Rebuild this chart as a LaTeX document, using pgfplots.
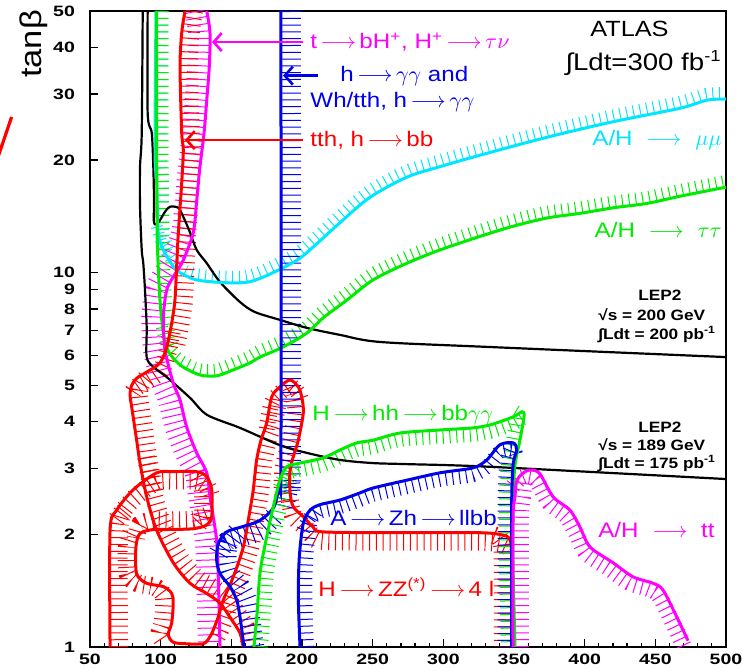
\documentclass[border=0pt]{standalone}
\usepackage{pgfplots}
\usepackage{pgfplotstable}
\pgfplotsset{compat=1.18}
\usepackage{fontspec}
\setmainfont{Liberation Sans}[FakeStretch=1.15]
\newfontfamily\tickfont{Liberation Sans}[FakeStretch=1.3]
\usetikzlibrary{arrows.meta}
\definecolor{pred}{RGB}{255,0,0}
\definecolor{pgreen}{RGB}{0,235,0}
\definecolor{pblue}{RGB}{0,0,235}
\definecolor{pcyan}{RGB}{0,230,255}
\definecolor{pmag}{RGB}{255,0,255}

\pgfplotstableread{
x y
96.7 50
96.0 21.3
97.2 17.4
98.3 12.8
101.9 11.5
108.9 10.4
113.7 10.0
125.5 9.56
146.7 9.40
163.2 9.46
179.5 10.0
196.5 10.8
207.8 11.7
226.9 13.6
248.1 15.9
274.3 18.0
297.7 19.2
326 20.6
373.4 23.0
420 25.3
467.5 27.5
486.6 28.9
500 29.1
}\tcyan
\pgfplotstableread{
x y
97.2 50
97.2 21.3
97.4 14.1
97.8 11.5
99.5 8.45
101.9 6.9
104.5 6.29
108.7 5.92
115.8 5.6
127.8 5.33
139.6 5.30
151.4 5.50
163.2 5.74
170.3 5.95
186.6 6.33
203.5 6.9
214.9 7.57
231.8 8.45
250.2 9.56
274.3 10.6
297.6 11.5
326.0 12.5
349.3 13.3
373.4 14.0
396.7 14.4
420.0 14.9
443.6 15.3
467.5 16.0
495.8 16.8
500 16.9
}\tgtt
\pgfplotstableread{
x y
132.6 50
134.9 43.7
134.4 35.5
132.6 28.9
130.7 23.6
127.8 19.2
125.5 15.6
123.1 12.8
116.0 10.8
108.9 9.74
104.3 8.99
101.9 7.6
103.1 6.22
108.9 5.07
113.7 4.57
118.4 3.87
125.5 3.30
132.6 2.92
134.9 2.52
139.6 1.93
140.8 1.51
142.0 1.0
}\tmtn
\pgfplotstableread{
x y
117.2 50
114.9 43.7
113.7 35.5
114.9 23.6
116.0 21.3
114.9 17.4
112.5 12.8
111.3 10.4
110.1 8.45
107.8 7.34
104.3 6.33
99.5 5.74
90.3 5.43
83.2 5.23
79.5 5.0
78.3 4.71
79.5 4.38
83.0 3.57
85.4 3.10
90.1 2.52
97.2 2.05
108.9 1.68
120.8 1.48
132.6 1.39
142.0 1.31
149.1 1.2
156.1 1.09
158.3 1.0
}\ttth
\pgfplotstableread{
x y
64.2 1.0
64.2 2.05
68.9 2.32
80.6 2.63
97.2 2.92
108.9 2.94
125.5 2.94
132.6 2.85
136.1 2.63
136.1 2.23
132.6 2.12
123.1 2.07
104.3 2.06
94.8 2.06
85.4 2.01
82.5 1.85
83.0 1.57
90.1 1.48
101.9 1.45
107.8 1.39
108.9 1.31
107.8 1.16
105.4 1.08
108.9 1.03
118.4 1.02
130.2 1.02
134.9 1.066
137.2 1.11
140.8 1.205
144.3 1.335
151.4 1.541
158.5 1.853
163.2 2.323
165.5 2.627
167.9 3.159
171.0 3.57
175.0 3.97
178.6 4.66
184.4 4.95
191.5 5.17
197.4 4.95
199.8 4.66
200.9 4.22
197.4 3.57
193.8 3.22
191.5 2.95
191.5 2.6
193.8 2.37
200.9 2.23
208.0 2.09
215.1 2.03
269.3 2.02
326.0 2.02
342.2 1.99
347.2 1.93
348.4 1.71
348.4 1.0
}\tzz
\pgfplotstableread{
x y
185.1 50
185.1 3.2
184.0 2.76
180.2 2.37
170.3 2.18
158.5 2.10
146.7 2.03
140.8 1.89
139.6 1.71
142.0 1.57
149.1 1.45
153.8 1.335
156.1 1.205
158.5 1.033
159.0 1.0
}\tgg
\pgfplotstableread{
x y
166.0 1.0
168.2 1.23
170.3 1.58
175.0 1.97
179.7 2.37
184.4 2.79
189.2 3.03
198.6 3.10
214.9 3.20
226.9 3.36
238.7 3.51
250.4 3.57
269.3 3.73
297.6 3.80
321.0 3.85
333.0 3.92
343.6 4.04
350.7 4.14
355.7 4.25
357.1 4.14
354.2 3.57
350.7 3.06
349.3 2.47
349.3 1.68
350.7 1.0
}\thh
\pgfplotstableread{
x y
198.6 1.0
197.4 1.36
198.1 1.74
200.9 2.14
205.7 2.32
212.7 2.40
226.9 2.47
241.0 2.58
250.4 2.66
274.1 2.79
297.6 2.92
321.0 3.01
330.7 3.16
340.1 3.47
349.5 3.51
351.9 3.36
349.5 3.10
348.4 2.52
348.4 1.68
348.4 1.0
}\tzh
\pgfplotstableread{
x y
349.3 1.0
349.3 2.18
350.7 2.52
352.1 2.79
357.8 2.94
362.7 2.97
368.4 2.90
377.6 2.52
389.6 2.32
396.7 2.09
403.8 1.85
420.0 1.68
434.2 1.54
448.4 1.48
455.4 1.42
465.3 1.2
473.1 1.04
}\ttt

% hatch band: thick dashed copy of part of a curve, shifted to its hatched side
% #1 table, #2 colour, #3 band width, #4 x shift, #5 y shift, #6 first index, #7 index after the last
\newcommand\hseg[7]{\addplot[draw=#2, line width=#3, dash pattern=on 0.5pt off 2.9pt, smooth, forget plot,
   xshift=#4, yshift=#5,
   skip coords between index={0}{#6}, skip coords between index={#7}{1000}] table {#1};}
\newcommand\lar{\,$\longrightarrow$\,}
\newcommand\wlar{\hspace{0.65em}$\longrightarrow$\hspace{0.65em}}
\begin{document}
\begin{tikzpicture}
\begin{axis}[name=ax, scale only axis, width=318pt, height=318pt,
  xmin=50, xmax=500, ymin=1, ymax=50, ymode=log,
  xtick={50,100,...,500}, minor x tick num=4,
  ytick={1,2,3,4,5,6,7,8,9,10,20,30,40,50},
  yticklabels={1,2,3,4,5,6,7,8,9,10,20,30,40,50},
  xtick pos=bottom, ytick pos=left,
  major tick length=4pt, minor tick length=2pt,
  ticklabel style={font=\tickfont\bfseries\fontsize{7.5}{8}\selectfont},
  /pgf/number format/assume math mode=true,
  yticklabel style={xshift=-4pt},
  axis line style={line width=0.6pt},
  tick style={black, line width=0.6pt},
  no markers, clip=true]

% ---- hatch bands ----
\hseg{\tcyan}{pcyan}{6pt}{3pt}{0pt}{0}{5}
\hseg{\tcyan}{pcyan}{6pt}{-0.7pt}{3pt}{3}{23}
\hseg{\tgtt}{pgreen}{6pt}{3pt}{0pt}{0}{7}
\hseg{\tgtt}{pgreen}{6pt}{-0.7pt}{3pt}{5}{30}
\hseg{\tmtn}{pmag}{11pt}{-5.5pt}{0pt}{0}{22}
\hseg{\ttth}{pred}{9pt}{4.5pt}{0pt}{0}{11}
\hseg{\ttth}{pred}{9pt}{0pt}{-4.5pt}{9}{15}
\hseg{\ttth}{pred}{9pt}{4.5pt}{0pt}{13}{20}
\hseg{\ttth}{pred}{9pt}{3pt}{3pt}{18}{28}
\hseg{\tzz}{pred}{9pt}{4.5pt}{0pt}{0}{3}
\hseg{\tzz}{pred}{9pt}{0pt}{-4.5pt}{2}{9}
\hseg{\tzz}{pred}{9pt}{-4.5pt}{0pt}{7}{11}
\hseg{\tzz}{pred}{9pt}{0pt}{4.5pt}{10}{16}
\hseg{\tzz}{pred}{9pt}{-4.5pt}{0pt}{14}{24}
\hseg{\tzz}{pred}{8pt}{4pt}{0pt}{26}{38}
\hseg{\tzz}{pred}{8pt}{0pt}{-3pt}{36}{42}
\hseg{\tzz}{pred}{8pt}{-4pt}{0pt}{40}{48}
\hseg{\tzz}{pred}{9pt}{0pt}{-4.5pt}{46}{55}
\hseg{\tzz}{pred}{9pt}{-4.5pt}{0pt}{53}{57}
\hseg{\tgg}{pblue}{10pt}{5pt}{0pt}{0}{4}
\hseg{\tgg}{pblue}{10pt}{0pt}{-5pt}{3}{8}
\hseg{\tgg}{pblue}{10pt}{5pt}{0pt}{6}{15}
\hseg{\thh}{pgreen}{7pt}{3.5pt}{0pt}{0}{7}
\hseg{\thh}{pgreen}{7pt}{0pt}{-3.5pt}{5}{19}
\hseg{\thh}{pgreen}{7pt}{-3.5pt}{0pt}{18}{25}
\hseg{\tzh}{pblue}{7pt}{3.5pt}{0pt}{0}{5}
\hseg{\tzh}{pblue}{7pt}{0pt}{-3.5pt}{3}{16}
\hseg{\tzh}{pblue}{7pt}{-3.5pt}{0pt}{15}{20}
\hseg{\ttt}{pmag}{8pt}{4pt}{0pt}{0}{4}
\hseg{\ttt}{pmag}{8pt}{-2pt}{-3pt}{3}{17}

% ---- LEP2 limits ----
\addplot[black, line width=1.1pt, smooth] coordinates {(87.3,50)(86.6,23.6)(85.4,19.2)(85.4,15.0)(86.6,11.5)(87.7,10.6)(88.9,9.0)(90.1,7.16)(90.1,5.95)(94.8,5.6)(104.3,5.26)(120.8,4.63)(132.8,4.17)(156.1,3.85)(184.4,3.46)(203.5,3.30)(226.9,3.16)(250.2,3.10)(274.3,3.08)(333,3.03)(500,2.81)};
\addplot[black, line width=1.1pt, smooth] coordinates {(90.8,50)(90.8,26.7)(93.7,23.6)(94.8,19.2)(95.3,15.6)(95.3,13.6)(98.3,13.6)(103.1,14.55)(106.6,15.0)(112.5,14.9)(116.0,14.1)(120.8,12.8)(125.5,11.5)(132.6,10.6)(142.0,9.44)(156.1,8.35)(166.7,7.85)(184.4,7.48)(203.5,7.12)(226.9,6.82)(255.2,6.53)(333,6.33)(500,5.95)};

% ---- contours ----
\addplot[pcyan, line width=1.5pt, smooth] table {\tcyan};
\addplot[pgreen, line width=1.5pt, smooth] table {\tgtt};
\addplot[pmag, line width=1.5pt, smooth] table {\tmtn};
\addplot[pred, line width=1.5pt, smooth] table {\ttth};
\addplot[pred, line width=1.5pt, smooth] table {\tzz};
\addplot[pblue, line width=1.5pt, smooth] table {\tgg};
\addplot[pgreen, line width=1.5pt, smooth] table {\thh};
\addplot[pblue, line width=1.5pt, smooth] table {\tzh};
\addplot[pmag, line width=1.5pt, smooth] table {\ttt};

% arrows
\draw[pmag, line width=1.3pt, -{Straight Barb[length=4pt,width=9pt]}] (axis cs:200.7,41.3) -- (axis cs:136.3,41.3);
\draw[pblue, line width=1.3pt, -{Straight Barb[length=4pt,width=9pt]}] (axis cs:211.3,33.6) -- (axis cs:186.6,33.6);
\draw[pred, line width=1.3pt, -{Straight Barb[length=4pt,width=9pt]}] (axis cs:200.7,22.6) -- (axis cs:117.2,22.6);

% labels
\begin{scope}[every node/.style={inner sep=0pt, font=\fontsize{10.5}{12}\selectfont}]
\node[anchor=west, text=pmag] at (axis cs:205.7,41.3) {t\lar bH\textsuperscript{+}, H\textsuperscript{+}\lar$\tau\nu$};
\node[anchor=west, text=pblue] at (axis cs:226.9,33.6) {h\lar$\gamma\gamma$ and};
\node[anchor=west, text=pblue] at (axis cs:205.7,28.6) {Wh/tth, h\lar$\gamma\gamma$};
\node[anchor=west, text=pred] at (axis cs:205.7,22.6) {tth, h\lar bb};
\node[anchor=center] at (axis cs:431.7,44.8) {\fontsize{11}{12}\selectfont ATLAS};
\node[anchor=east] at (axis cs:497.2,36.3) {\fontsize{12}{13}\selectfont ∫Ldt=300 fb\textsuperscript{-1}};
\node[anchor=east, text=pcyan] at (axis cs:497.2,22.6) {A/H\wlar$\mu\mu$};
\node[anchor=east, text=pgreen] at (axis cs:497.2,13.0) {A/H\wlar$\tau\tau$};
\node[anchor=west, text=pgreen] at (axis cs:207.1,4.17) {H\lar hh\lar bb$\gamma\gamma$};
\node[anchor=west, text=pblue] at (axis cs:219.8,2.21) {A\lar Zh\lar llbb};
\node[anchor=west, text=pred] at (axis cs:211.3,1.446) {H\lar ZZ\textsuperscript{(*)}\lar 4 l};
\node[anchor=west, text=pmag] at (axis cs:409.4,2.054) {A/H\wlar tt};
\end{scope}
\begin{scope}[every node/.style={inner sep=0pt, font=\bfseries\fontsize{7.5}{8}\selectfont}]
\node[anchor=center] at (axis cs:453.3,8.72) {LEP2};
\node[anchor=west] at (axis cs:409.4,7.71) {√s = 200 GeV};
\node[anchor=west] at (axis cs:409.4,6.82) {∫Ldt = 200 pb\textsuperscript{-1}};
\node[anchor=center] at (axis cs:453.3,3.87) {LEP2};
\node[anchor=west] at (axis cs:409.4,3.465) {√s = 189 GeV};
\node[anchor=west] at (axis cs:409.4,3.10) {∫Ldt = 175 pb\textsuperscript{-1}};
\end{scope}
\end{axis}
\node[rotate=90, inner sep=0pt, font=\fontsize{15}{16}\selectfont] at ([shift={(-28pt,-16.5pt)}]ax.north west) {tanβ};
\draw[pred, line width=1.6pt] ([shift={(-39.2pt,-53pt)}]ax.north west) -- ([shift={(-46.5pt,-74.5pt)}]ax.north west);
\pgfresetboundingbox
\path ([shift={(-45pt,-11.5pt)}]ax.south west) rectangle ([shift={(8pt,5.5pt)}]ax.north east);
\end{tikzpicture}
\end{document}
